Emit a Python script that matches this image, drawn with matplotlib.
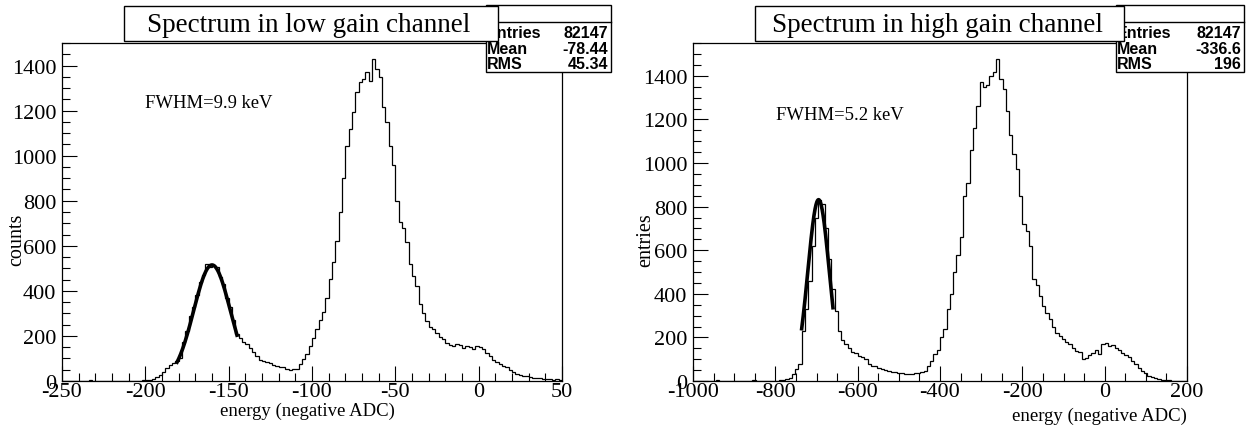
import numpy as np
import matplotlib.pyplot as plt
from matplotlib.patches import Rectangle
from matplotlib.ticker import MultipleLocator

W, H = 1250, 427

# ---------------- data ----------------
# low gain channel: 2-unit bins from -250 to 50
low_range = (-250, 50)
low_counts = [2, 1, 0, 1, 0, 2, 0, 1, 3, 0, 1, 0, 2, 1, 0, 0, 1, 2, 0, 1, 0, 1, 0, 2, 3,
              3, 5, 10, 18, 25, 40, 58, 70, 80, 90,
              100, 175, 220, 290, 330, 380, 440, 470, 520, 505,
              515, 505, 460, 430, 370, 330, 270, 210, 190, 175,
              165, 145, 130, 110, 92, 90, 85, 78, 70, 65,
              62, 60, 55, 50, 52, 55, 75, 97, 120, 157,
              190, 231, 270, 306, 370, 452, 530, 620, 750, 900,
              1043, 1117, 1193, 1282, 1325, 1340, 1370, 1330, 1431, 1384,
              1348, 1215, 1150, 1043, 960, 800, 705, 680, 616, 520,
              467, 420, 340, 300, 265, 240, 231, 215, 195, 185,
              170, 158, 157, 165, 160, 145, 155, 150, 140, 155,
              150, 140, 125, 112, 95, 84, 75, 65, 60, 50,
              40, 31, 28, 24, 22, 16, 14, 13, 12, 10,
              9, 8, 6, 7, 4]
low_fit = dict(amp=515, mean=-160, sigma=11, lo=-181, hi=-145)
low_stats = [("Entries", "82147"), ("Mean", "-78.44"), ("RMS", "45.34")]

# high gain channel: 8-unit bins from -1000 to 200
high_range = (-1000, 200)
high_counts = [1, 0, 2, 0, 1, 0, 0, 3, 1, 0, 2, 1, 0, 1, 0, 2, 0, 1, 3, 0, 1, 0, 2, 1, 0,
               2, 3, 5, 8, 14, 32, 55, 80,
               230, 330, 460, 620, 750, 830, 810, 700,
               560, 420, 320, 230, 190, 170, 150, 135,
               130, 115, 110, 100, 80, 70, 68, 60,
               55, 50, 48, 42, 40, 35, 38, 32,
               30, 33, 35, 38, 40, 45, 70, 90,
               125, 140, 200, 240, 330, 400, 500, 580,
               660, 850, 910, 1060, 1160, 1260, 1370, 1350,
               1360, 1400, 1420, 1478, 1386, 1340, 1240, 1130,
               1040, 973, 850, 720, 690, 620, 470, 440,
               390, 345, 310, 285, 250, 220, 205, 195,
               180, 170, 150, 138, 132, 100, 105, 120,
               130, 140, 125, 170, 175, 160, 165, 150,
               140, 130, 120, 110, 90, 80, 60, 48,
               35, 25, 18, 12, 9, 6, 4, 3,
               2, 1, 1, 0, 0]
high_fit = dict(amp=832, mean=-695, sigma=26, lo=-736, hi=-660)
high_stats = [("Entries", "82147"), ("Mean", "-336.6"), ("RMS", "196")]


def fx(x):
    return x / W


def fy(y):
    return 1 - y / H


def box(fig, x0, y0, x1, y1, z):
    r = Rectangle((fx(x0), fy(y1)), fx(x1 - x0), (y1 - y0) / H,
                  transform=fig.transFigure, facecolor='white',
                  edgecolor='black', lw=1.0, zorder=z)
    fig.patches.append(r)
    return r


def panel(fig, rect, rng, counts, fit, ymax, xmaj, xmin, ylabel, ylab_x,
          fwhm, fwhm_xy, title, tbox, sbox, stats, xlabel_right):
    ax = fig.add_axes(rect)
    edges = np.linspace(rng[0], rng[1], len(counts) + 1)
    ax.stairs(counts, edges, color='black', lw=0.9)
    xf = np.linspace(fit['lo'], fit['hi'], 200)
    yf = fit['amp'] * np.exp(-0.5 * ((xf - fit['mean']) / fit['sigma']) ** 2)
    ax.plot(xf, yf, color='black', lw=2.6)
    ax.set_xlim(rng)
    ax.set_ylim(0, ymax)
    ax.xaxis.set_major_locator(MultipleLocator(xmaj))
    ax.xaxis.set_minor_locator(MultipleLocator(xmin))
    ax.yaxis.set_major_locator(MultipleLocator(200))
    ax.yaxis.set_minor_locator(MultipleLocator(50))
    ax.tick_params(which='both', direction='in', top=False, right=False,
                   labelsize=16, width=0.8)
    ax.tick_params(which='major', length=11)
    ax.tick_params(which='minor', length=6)
    ax.tick_params(axis='x', pad=1)
    ax.tick_params(axis='y', pad=4)
    for s in ax.spines.values():
        s.set_linewidth(0.9)
    ax.set_ylabel(ylabel, fontsize=14.5)
    ax.yaxis.set_label_coords(ylab_x, 0.42)
    ax.set_xlabel("energy (negative ADC)", fontsize=13.5, labelpad=0)
    if xlabel_right:
        ax.xaxis.set_label_coords(1.0, -0.075)
        ax.xaxis.label.set_ha('right')
    else:
        ax.xaxis.set_label_coords(0.49, -0.06)
    fig.text(fx(fwhm_xy[0]), fy(fwhm_xy[1]), fwhm, fontsize=13.4,
             ha='left', va='center')

    # stats box then title box on top of it
    sb = box(fig, *sbox, z=5)
    fig.lines.append(plt.Line2D([fx(sbox[0]), fx(sbox[2])], [fy(23), fy(23)],
                                transform=fig.transFigure, color='black',
                                lw=1.0, zorder=6))
    for i, (k, v) in enumerate(stats):
        yy = fy(33 + 16 * i)
        t = fig.text(fx(sbox[0] + 1), yy, k, fontsize=11.5, weight='bold',
                     family='Liberation Sans', ha='left', va='center', zorder=7)
        t.set_clip_path(sb)
        fig.text(fx(sbox[2] - 3), yy, v, fontsize=11.5, weight='bold',
                 family='Liberation Sans', ha='right', va='center', zorder=7)
    box(fig, *tbox, z=8)
    fig.text(fx((tbox[0] + tbox[2]) / 2 - 2), fy((tbox[1] + tbox[3]) / 2 + 1),
             title, fontsize=19.5, ha='center', va='center', zorder=9)
    return ax


plt.rcParams['font.family'] = ['Liberation Serif', 'DejaVu Serif']
plt.rcParams['axes.unicode_minus'] = False

fig = plt.figure(figsize=(W / 100, H / 100), dpi=100)

panel(fig, [fx(62), fy(382), fx(500), 338 / H], low_range, low_counts, low_fit,
      1500, 50, 10, "counts", -0.072, "FWHM=9.9 keV", (145, 103),
      "Spectrum in low gain channel", (124, 7, 498, 42), (486, 6, 611, 73),
      low_stats, False)

panel(fig, [fx(693), fy(382), fx(494), 338 / H], high_range, high_counts, high_fit,
      1551, 200, 50, "entries", -0.077, "FWHM=5.2 keV", (776, 116),
      "Spectrum in high gain channel", (755, 7, 1124, 42), (1116, 6, 1244, 73),
      high_stats, True)

fig.savefig("out.png", dpi=100)
